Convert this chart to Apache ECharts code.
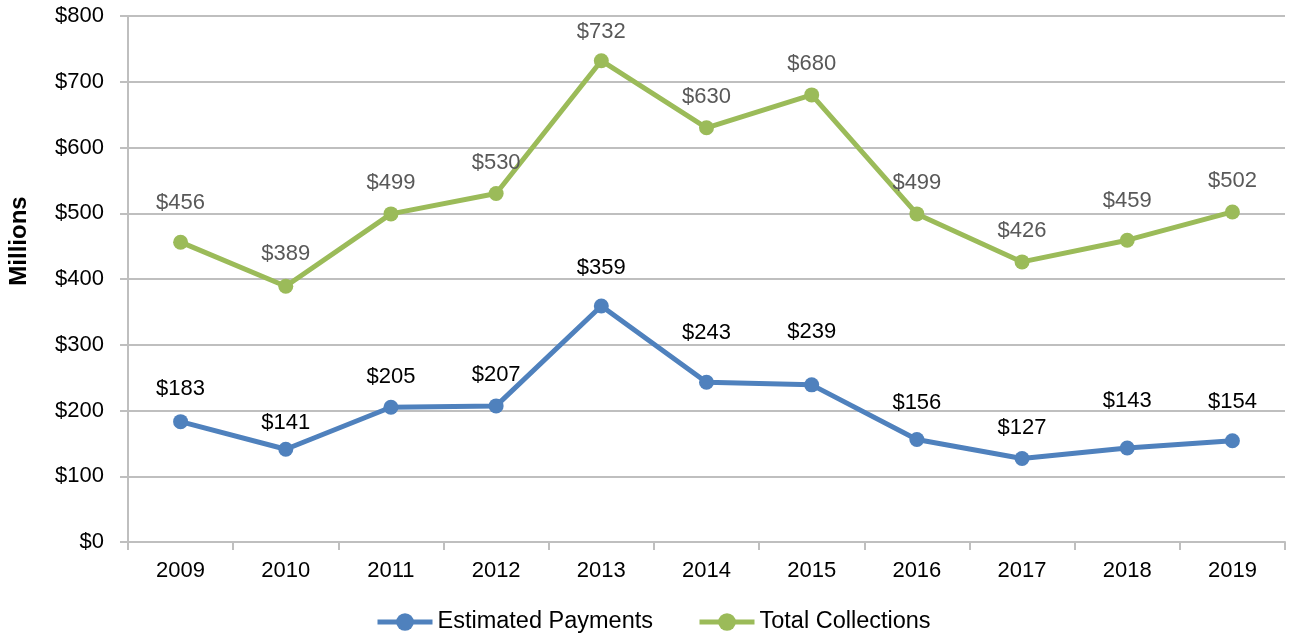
<!DOCTYPE html>
<html>
<head>
<meta charset="utf-8">
<script src="https://cdn.jsdelivr.net/npm/echarts@6/dist/echarts.min.js"></script>
<style>
html, body { margin: 0; padding: 0; background: #fff; }
#box { width: 1289px; height: 634px; }
</style>
</head>
<body>
<div id="box"></div>
<script>
var years = ['2009', '2010', '2011', '2012', '2013', '2014', '2015', '2016', '2017', '2018', '2019'];
var estimatedPayments = [183, 141, 205, 207, 359, 243, 239, 156, 127, 143, 154];
var totalCollections = [456, 389, 499, 530, 732, 630, 680, 499, 426, 459, 502];

// gap between point and its value label (the labels were nudged by hand in the original)
var gapEstimated = [14, 8, 12, 12, 20, 31, 34, 18, 12, 29, 20];
var gapTotal = [21, 14, 12, 12, 10, 12, 12, 12, 12, 21, 12];

function withGaps(values, gaps) {
    return values.map(function (v, i) {
        return {value: v, label: {distance: gaps[i]}};
    });
}

var myChart = echarts.init(document.getElementById('box'));
var font = 'Liberation Sans, Arial, sans-serif';

var option = {
    animation: false,
    textStyle: {fontFamily: font},
    grid: {left: 128, right: 4, top: 16, bottom: 92},
    legend: {
        bottom: 0,
        left: 375,
        padding: 0,
        itemWidth: 55,
        itemHeight: 22,
        itemGap: 44,
        lineStyle: {width: 5},
        textStyle: {fontSize: 23.5, color: '#000', fontFamily: font},
        data: ['Estimated Payments', 'Total Collections']
    },
    graphic: [{
        type: 'text',
        x: 19, y: 241,
        rotation: Math.PI / 2,
        style: {
            text: 'Millions',
            font: 'bold 24px ' + font,
            fill: '#000',
            align: 'center',
            verticalAlign: 'middle'
        }
    }],
    xAxis: {
        type: 'category',
        data: years,
        boundaryGap: true,
        axisLine: {lineStyle: {color: '#bfbfbf', width: 2}},
        axisTick: {show: true, length: 8, lineStyle: {color: '#bfbfbf', width: 2}},
        axisLabel: {fontSize: 22, color: '#000', margin: 18}
    },
    yAxis: {
        type: 'value',
        min: 0, max: 800, interval: 100,
        axisLine: {show: true, lineStyle: {color: '#bfbfbf', width: 2}},
        axisTick: {show: true, length: 8, lineStyle: {color: '#bfbfbf', width: 2}},
        splitLine: {lineStyle: {color: '#bfbfbf', width: 2}},
        axisLabel: {fontSize: 22, color: '#000', margin: 24, formatter: function (v) { return '$' + v; }}
    },
    series: [
        {
            name: 'Estimated Payments',
            type: 'line',
            data: withGaps(estimatedPayments, gapEstimated),
            color: '#4f81bd',
            symbol: 'circle',
            symbolSize: 15,
            lineStyle: {width: 5},
            label: {show: true, position: 'top', fontSize: 22, color: '#000', formatter: '${c}'}
        },
        {
            name: 'Total Collections',
            type: 'line',
            data: withGaps(totalCollections, gapTotal),
            color: '#9bbb59',
            symbol: 'circle',
            symbolSize: 15,
            lineStyle: {width: 5},
            label: {show: true, position: 'top', fontSize: 22, color: '#595959', formatter: '${c}'}
        }
    ]
};
myChart.setOption(option);
</script>
</body>
</html>
